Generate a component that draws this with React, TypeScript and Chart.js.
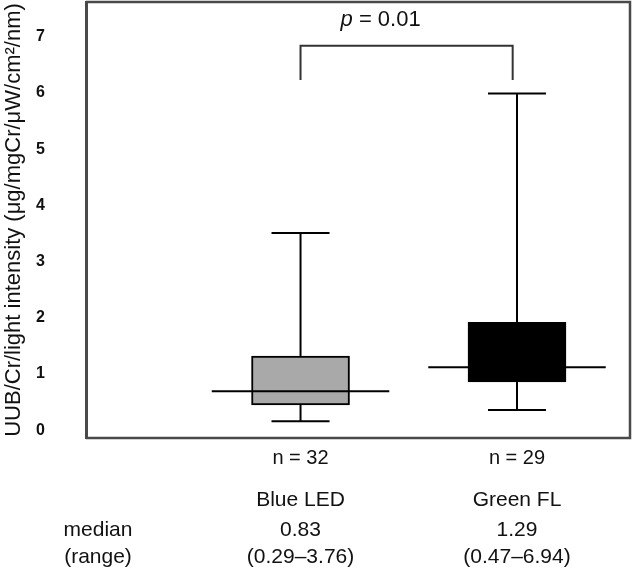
import React, { useEffect, useRef } from 'react';
import { Chart, registerables } from 'chart.js';

Chart.register(...registerables);

const groups = ['Blue LED', 'Green FL'];
const groupX = [1, 2];
const sampleSizes = ['n = 32', 'n = 29'];
const whiskerMin = [0.16, 0.36];
const boxQ1 = [0.45, 0.86];
const boxMedian = [0.69, 1.12];
const boxQ3 = [1.32, 1.92];
const whiskerMax = [3.51, 5.99];
const medianText = ['0.83', '1.29'];
const rangeText = ['(0.29–3.76)', '(0.47–6.94)'];
const boxColors = ['#a9a9a9', '#000000'];
const yTickValues = [0, 1, 2, 3, 4, 5, 6, 7];
const bracketX = [1, 1.98];
const bracketY = [6.23, 6.84];
const pText = ['p', ' = 0.01'];
const rowLabels = ['median', '(range)'];
const yTitle = 'UUB/Cr/light intensity (μg/mgCr/μW/cm²/nm)';

const FONT = "'Liberation Sans', Arial, sans-serif";

const boxPlugin = {
  id: 'boxExtras',
  afterDatasetsDraw(chart: any) {
    const { ctx, scales, chartArea } = chart;
    const x = scales.x;
    const y = scales.y;
    ctx.save();
    const line = (x1: number, y1: number, x2: number, y2: number) => {
      ctx.beginPath();
      ctx.moveTo(x1, y1);
      ctx.lineTo(x2, y2);
      ctx.stroke();
    };
    ctx.strokeStyle = '#000';
    ctx.lineWidth = 2;
    groupX.forEach((g, i) => {
      const cx = x.getPixelForValue(g);
      const capL = x.getPixelForValue(g - 0.134);
      const capR = x.getPixelForValue(g + 0.134);
      const medL = x.getPixelForValue(g - 0.41);
      const medR = x.getPixelForValue(g + 0.41);
      const yMax = y.getPixelForValue(whiskerMax[i]);
      const yMin = y.getPixelForValue(whiskerMin[i]);
      const yQ1 = y.getPixelForValue(boxQ1[i]);
      const yQ3 = y.getPixelForValue(boxQ3[i]);
      const yMed = y.getPixelForValue(boxMedian[i]);
      line(cx, yQ3, cx, yMax);
      line(capL, yMax, capR, yMax);
      line(cx, yQ1, cx, yMin);
      line(capL, yMin, capR, yMin);
      line(medL, yMed, medR, yMed);
    });

    // significance bracket
    ctx.strokeStyle = '#333';
    ctx.lineWidth = 2;
    const bx1 = x.getPixelForValue(bracketX[0]);
    const bx2 = x.getPixelForValue(bracketX[1]);
    const byLow = y.getPixelForValue(bracketY[0]);
    const byTop = y.getPixelForValue(bracketY[1]);
    ctx.beginPath();
    ctx.moveTo(bx1, byLow);
    ctx.lineTo(bx1, byTop);
    ctx.lineTo(bx2, byTop);
    ctx.lineTo(bx2, byLow);
    ctx.stroke();

    // p value text
    ctx.fillStyle = '#111';
    ctx.textBaseline = 'middle';
    ctx.textAlign = 'left';
    ctx.font = `italic 22px ${FONT}`;
    const w1 = ctx.measureText(pText[0]).width;
    ctx.font = `22px ${FONT}`;
    const w2 = ctx.measureText(pText[1]).width;
    const pcx = (bx1 + bx2) / 2 - 26;
    const px = pcx - (w1 + w2) / 2;
    const py = byTop - 26;
    ctx.font = `italic 22px ${FONT}`;
    ctx.fillText(pText[0], px, py);
    ctx.font = `22px ${FONT}`;
    ctx.fillText(pText[1], px + w1, py);

    // frame (top, right, bottom)
    ctx.strokeStyle = '#4a4a4a';
    ctx.lineWidth = 2.5;
    ctx.beginPath();
    ctx.moveTo(chartArea.left, chartArea.top);
    ctx.lineTo(chartArea.right, chartArea.top);
    ctx.lineTo(chartArea.right, chartArea.bottom);
    ctx.lineTo(chartArea.left, chartArea.bottom);
    ctx.stroke();

    // labels below the plot
    ctx.textAlign = 'center';
    ctx.fillStyle = '#111';
    const b = chartArea.bottom;
    groupX.forEach((g, i) => {
      const cx = x.getPixelForValue(g);
      ctx.font = `20px ${FONT}`;
      ctx.fillText(sampleSizes[i], cx, b + 20);
      ctx.font = `21px ${FONT}`;
      ctx.fillText(groups[i], cx, b + 62);
      ctx.fillText(medianText[i], cx, b + 92);
      ctx.fillText(rangeText[i], cx, b + 119);
    });
    ctx.font = `21px ${FONT}`;
    ctx.fillText(rowLabels[0], chartArea.left + 12, b + 92);
    ctx.fillText(rowLabels[1], chartArea.left + 12, b + 119);
    ctx.restore();
  },
};

export default function App() {
  const ref = useRef<HTMLCanvasElement | null>(null);
  useEffect(() => {
    if (!ref.current) return;
    const chart = new Chart(ref.current, {
      type: 'bar',
      data: {
        datasets: [
          {
            data: groupX.map((g, i) => ({ x: g, y: [boxQ1[i], boxQ3[i]] })) as any,
            backgroundColor: boxColors,
            borderColor: '#000',
            borderWidth: 2,
            borderSkipped: false,
            barThickness: 98,
          },
        ],
      },
      options: {
        animation: false,
        responsive: false,
        maintainAspectRatio: false,
        layout: { padding: { left: 0, right: 3, top: 2, bottom: 141 } },
        plugins: { legend: { display: false }, tooltip: { enabled: false } },
        scales: {
          x: { type: 'linear', min: 0.009, max: 2.522, offset: false, display: false },
          y: {
            type: 'linear',
            min: -0.14,
            max: 7.62,
            afterBuildTicks: (s: any) => {
              s.ticks = yTickValues.map((v) => ({ value: v }));
            },
            afterFit: (s: any) => {
              s.width = 86;
            },
            ticks: {
              color: '#111',
              padding: 0,
              font: { family: FONT, size: 16, weight: 'bold', lineHeight: 0.2 },
            },
            grid: {
              drawOnChartArea: false,
              drawTicks: true,
              tickLength: 41,
              tickColor: 'rgba(0,0,0,0)',
            },
            border: { display: true, color: '#4a4a4a', width: 3 },
            title: {
              display: true,
              text: yTitle,
              color: '#111',
              font: { family: FONT, size: 22 },
              padding: { top: 1, bottom: 0 },
            },
          },
        },
      } as any,
      plugins: [boxPlugin],
    });
    return () => chart.destroy();
  }, []);
  return (
    <div style={{ position: 'absolute', left: 0, top: 0, width: 633, height: 579, background: '#fff' }}>
      <canvas ref={ref} width={633} height={579} style={{ width: 633, height: 579, display: 'block' }} />
    </div>
  );
}
